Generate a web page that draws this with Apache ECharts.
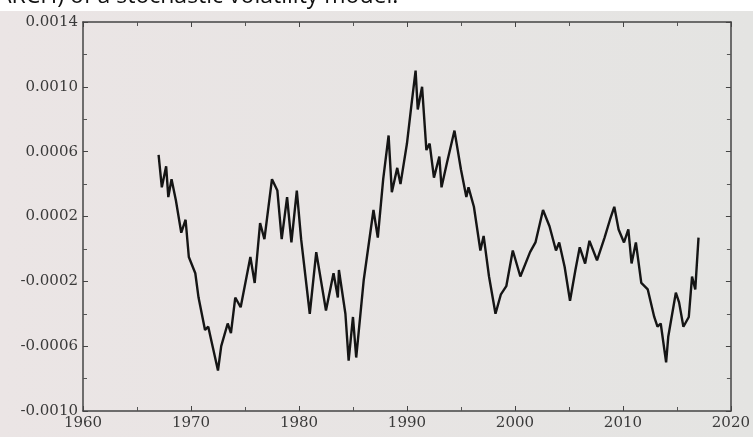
<!DOCTYPE html>
<html>
<head>
<meta charset="utf-8">
<script src="https://cdn.jsdelivr.net/npm/echarts@6/dist/echarts.min.js"></script>
<style>
  html, body { margin: 0; padding: 0; }
  #svChart { width: 753px; height: 437px; }
</style>
</head>
<body>
<div id="svChart"></div>
<script>
  // values
  var years = [
    1967.0, 1967.3, 1967.7, 1967.9, 1968.2, 1968.6, 1969.1, 1969.5, 1969.8, 1970.4,
    1970.7, 1971.3, 1971.6, 1972.0, 1972.5, 1972.8, 1973.4, 1973.7, 1974.1, 1974.6,
    1975.5, 1975.9, 1976.4, 1976.8, 1977.5, 1978.0, 1978.4, 1978.9, 1979.3, 1979.8,
    1980.2, 1981.0, 1981.6, 1982.5, 1983.2, 1983.6, 1983.7, 1984.3, 1984.6, 1985.0,
    1985.3, 1986.0, 1986.9, 1987.3, 1987.8, 1988.3, 1988.6, 1989.1, 1989.4, 1990.0,
    1990.4, 1990.8, 1991.0, 1991.4, 1991.8, 1992.1, 1992.5, 1993.0, 1993.2, 1993.7,
    1994.4, 1995.0, 1995.5, 1995.7, 1996.2, 1996.8, 1997.1, 1997.6, 1998.2, 1998.7,
    1999.2, 1999.8, 2000.5, 2001.4, 2001.9, 2002.6, 2003.2, 2003.8, 2004.1, 2004.6,
    2005.1, 2005.6, 2006.0, 2006.5, 2006.9, 2007.6, 2008.3, 2008.8, 2009.2, 2009.6,
    2010.1, 2010.5, 2010.8, 2011.2, 2011.7, 2012.3, 2012.9, 2013.2, 2013.5, 2014.0,
    2014.2, 2014.9, 2015.2, 2015.6, 2016.1, 2016.4, 2016.7, 2017.0
  ]
  var values = [
    0.00058, 0.00038, 0.00051, 0.00032, 0.00043, 0.00030, 0.00010, 0.00018, -0.00005, -0.00015,
    -0.00030, -0.00050, -0.00048, -0.00060, -0.00075, -0.00060, -0.00046, -0.00052, -0.00030, -0.00036,
    -0.00005, -0.00021, 0.00016, 0.00006, 0.00043, 0.00036, 0.00006, 0.00032, 0.00004, 0.00036,
    0.00006, -0.00040, -0.00002, -0.00038, -0.00015, -0.00030, -0.00013, -0.00040, -0.00069, -0.00042,
    -0.00067, -0.00019, 0.00024, 0.00007, 0.00043, 0.00070, 0.00035, 0.00050, 0.00040, 0.00065,
    0.00088, 0.00110, 0.00086, 0.00100, 0.00061, 0.00065, 0.00044, 0.00057, 0.00038, 0.00053,
    0.00073, 0.00049, 0.00032, 0.00038, 0.00026, -0.00001, 0.00008, -0.00017, -0.00040, -0.00028,
    -0.00023, -0.00001, -0.00017, -0.00002, 0.00004, 0.00024, 0.00014, -0.00001, 0.00004, -0.00011,
    -0.00032, -0.00013, 0.00001, -0.00009, 0.00005, -0.00007, 0.00007, 0.00018, 0.00026, 0.00012,
    0.00004, 0.00012, -0.00009, 0.00004, -0.00021, -0.00025, -0.00042, -0.00048, -0.00046, -0.00070,
    -0.00054, -0.00027, -0.00033, -0.00048, -0.00042, -0.00017, -0.00025, 0.00007
  ]
  var pageLine = 'ARCH) of a stochastic volatility model.'

  var seriesData = []
  for (let i = 0; i < years.length; i++) {
    seriesData.push([years[i], values[i]])
  }

  var axisFont = {
    fontFamily: 'DejaVu Serif',
    fontSize: 15,
    color: '#3a3a3a'
  }
  var frame = { onZero: false, lineStyle: { color: '#444', width: 1.5 } }
  var tick = { inside: true, length: 5, lineStyle: { color: '#444' } }
  var minor = { show: true, splitNumber: 2, length: 4, lineStyle: { color: '#555' } }

  var svChart = echarts.init(document.getElementById('svChart'))
  var svChart_Option = {
    animation: false,
    backgroundColor: {
      type: 'linear', x: 0, y: 0, x2: 1, y2: 0,
      colorStops: [
        { offset: 0, color: '#ebe5e5' },
        { offset: 1, color: '#e4e4e2' }
      ]
    },
    graphic: [{
      type: 'rect',
      shape: { x: 0, y: 0, width: 753, height: 11 },
      style: { fill: '#ffffff' }
    }, {
      type: 'text',
      left: -3,
      top: -15,
      style: {
        text: pageLine,
        fontFamily: 'Open Sans',
        fontSize: 23,
        fill: '#111'
      }
    }],
    grid: {
      left: 83,
      right: 12,
      top: 22,
      bottom: 26
    },
    xAxis: [{
      type: 'value',
      min: 1960,
      max: 2020,
      interval: 10,
      axisLine: frame,
      axisTick: tick,
      minorTick: minor,
      splitLine: { show: false },
      axisLabel: Object.assign({
        margin: 5,
        formatter: function (v) { return String(v) }
      }, axisFont)
    }, {
      type: 'value',
      position: 'top',
      min: 1960,
      max: 2020,
      interval: 10,
      axisLine: frame,
      axisTick: tick,
      minorTick: minor,
      splitLine: { show: false },
      axisLabel: { show: false }
    }],
    yAxis: [{
      type: 'value',
      min: -0.001,
      max: 0.0014,
      interval: 0.0004,
      axisLine: frame,
      axisTick: tick,
      minorTick: minor,
      splitLine: { show: false },
      axisLabel: Object.assign({
        margin: 5,
        formatter: function (v) { return v.toFixed(4) }
      }, axisFont)
    }, {
      type: 'value',
      position: 'right',
      min: -0.001,
      max: 0.0014,
      interval: 0.0004,
      axisLine: frame,
      axisTick: tick,
      minorTick: minor,
      splitLine: { show: false },
      axisLabel: { show: false }
    }],
    series: [{
      type: 'line',
      data: seriesData,
      showSymbol: false,
      symbol: 'none',
      lineStyle: { color: '#151515', width: 2.4 }
    }]
  }
  svChart.setOption(svChart_Option)
</script>
</body>
</html>
